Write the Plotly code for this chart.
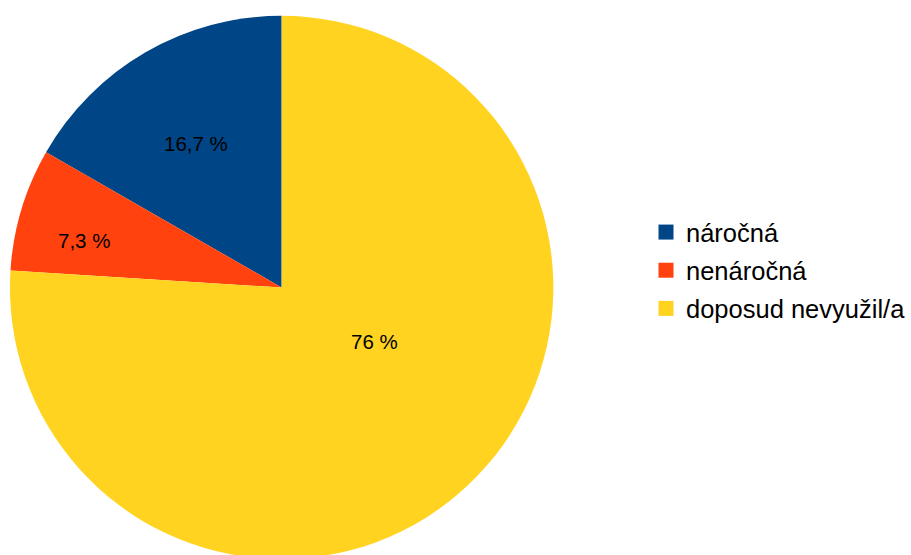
import plotly.graph_objects as go

# Share of respondents by category
categories = ["náročná", "nenáročná", "doposud nevyužil/a"]
shares = [16.7, 7.3, 76.0]
colors = ["#004586", "#ff420e", "#ffd320"]

labels_text = [f"{v:g}".replace(".", ",") + " %" for v in shares]
# centres of the value labels inside each slice (pixels from top-left)
label_xy = [(197, 143), (85, 241), (377, 341)]

W, H = 911, 565
cx, cy, r = 283.5, 287.5, 273.5
FONT = "Liberation Sans, Arial, sans-serif"

# first slice ends at 12 o'clock, slices run counter-clockwise
start_rot = -360.0 * shares[0] / sum(shares)

fig = go.Figure()
fig.add_trace(
    go.Pie(
        labels=categories,
        values=shares,
        textinfo="none",
        marker=dict(colors=colors, line=dict(width=0)),
        sort=False,
        direction="counterclockwise",
        rotation=start_rot,
        showlegend=False,
        hoverinfo="label+percent",
        domain=dict(x=[(cx - r) / W, (cx + r) / W], y=[1 - (cy + r) / H, 1 - (cy - r) / H]),
    )
)

# legend entries as square markers, one group each so the gap can be set
for name, col in zip(categories, colors):
    fig.add_trace(
        go.Scatter(
            x=[None], y=[None], mode="markers", name=name,
            marker=dict(symbol="square", size=15, color=col, line=dict(width=0)),
            legendgroup=name, showlegend=True, hoverinfo="skip",
        )
    )

for txt, (px, py) in zip(labels_text, label_xy):
    fig.add_annotation(
        x=px / W, y=1 - py / H, xref="paper", yref="paper",
        text=txt, showarrow=False, xanchor="center", yanchor="middle",
        font=dict(family=FONT, size=20.5, color="black"),
    )

fig.update_layout(
    width=W,
    height=H,
    margin=dict(l=0, r=0, t=0, b=0),
    paper_bgcolor="white",
    plot_bgcolor="white",
    font=dict(family=FONT, color="black"),
    xaxis=dict(visible=False),
    yaxis=dict(visible=False),
    legend=dict(
        x=650.5 / W,
        y=1 - 209 / H,
        xanchor="left",
        yanchor="top",
        font=dict(size=25.5, color="black"),
        itemsizing="trace",
        tracegroupgap=2,
        bgcolor="rgba(0,0,0,0)",
    ),
)

# the figure is a little taller than the window; keep the page free of scrollbars
fig.write_html(
    "out.html",
    post_script="document.body.style.margin='0';document.body.style.overflow='hidden';",
)
